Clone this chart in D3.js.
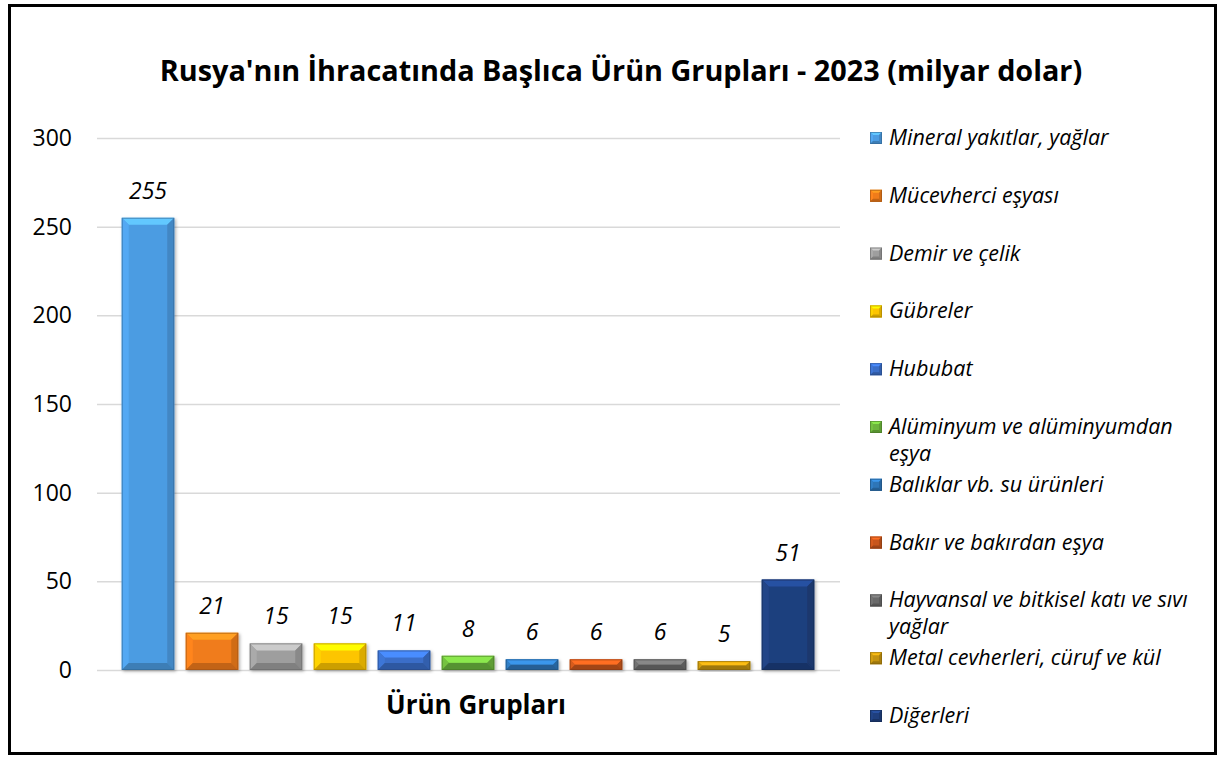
<!DOCTYPE html>
<html>
<head>
<meta charset="utf-8">
<script src="https://cdn.jsdelivr.net/npm/d3@7"></script>
<style>
  body { margin: 0; background: #fff; }
  svg { display: block; font-family: "Open Sans", Lato, sans-serif; }
</style>
</head>
<body>
<div id="chart"></div>
<script>
const categories = [
  'Mineral yakıtlar, yağlar',
  'Mücevherci eşyası',
  'Demir ve çelik',
  'Gübreler',
  'Hububat',
  'Alüminyum ve alüminyumdan eşya',
  'Balıklar vb. su ürünleri',
  'Bakır ve bakırdan eşya',
  'Hayvansal ve bitkisel katı ve sıvı yağlar',
  'Metal cevherleri, cüruf ve kül',
  'Diğerleri'
];
const values = [255, 21, 15, 15, 11, 8, 6, 6, 6, 5, 51];
const colors = ['#4c9ce2', '#f07c1a', '#9e9e9e', '#fdc500', '#3a6ec8', '#6cb53c',
  '#2e76b8', '#c8561c', '#6a6a6a', '#c4930f', '#1f3f7e'];
const yTicks = [0, 50, 100, 150, 200, 250, 300];

const W = 1219, H = 758;
const plot = {left: 97, right: 840, top: 138, bottom: 670};

const svg = d3.select('#chart').append('svg')
  .attr('width', W)
  .attr('height', H);

// outer frame
svg.append('rect')
  .attr('x', 9.5).attr('y', 5.5)
  .attr('width', 1206).attr('height', 748)
  .attr('fill', '#fff')
  .attr('stroke', '#000')
  .attr('stroke-width', 3);

// title, sized to span the same width as the original
const title = svg.append('text')
  .attr('x', 621).attr('y', 81)
  .attr('text-anchor', 'middle')
  .attr('font-weight', 700)
  .attr('font-size', 26)
  .attr('fill', '#000')
  .text("Rusya'nın İhracatında Başlıca Ürün Grupları - 2023 (milyar dolar)");
fitWidth(title, 923);

const x = d3.scaleBand()
  .domain(categories)
  .range([116, 820])
  .paddingInner(0.18)
  .paddingOuter(0.09);

const y = d3.scaleLinear()
  .domain([0, 300])
  .range([plot.bottom, plot.top]);

// gridlines
svg.append('g')
  .selectAll('line')
  .data(yTicks)
  .join('line')
  .attr('x1', plot.left).attr('x2', plot.right)
  .attr('y1', d => y(d) + 0.5).attr('y2', d => y(d) + 0.5)
  .attr('stroke', '#d9d9d9')
  .attr('stroke-width', 1.5);

// y axis labels
const yAxis = svg.append('g')
  .attr('transform', 'translate(72,0)')
  .call(d3.axisLeft(y).tickValues(yTicks).tickSize(0).tickPadding(0));
yAxis.select('.domain').remove();
yAxis.selectAll('text')
  .attr('font-family', '"Open Sans", sans-serif')
  .attr('font-size', 23)
  .attr('fill', '#000');

const defs = svg.append('defs');
defs.append('filter')
  .attr('id', 'shadow')
  .attr('x', '-20%').attr('y', '-20%').attr('width', '140%').attr('height', '140%')
  .append('feDropShadow')
  .attr('dx', 1.5).attr('dy', 1.5).attr('stdDeviation', 1.5)
  .attr('flood-color', '#000').attr('flood-opacity', 0.3);

// draws a bevelled box like Excel's "relaxed inset" bars
function bevelBox (g, bx, by, bw, bh, color, b) {
  b = Math.min(b, bw / 2, bh / 2);
  const c = d3.color(color);
  const pts = p => p.map(q => q.join(',')).join(' ');
  g.append('rect')
    .attr('x', bx).attr('y', by).attr('width', bw).attr('height', bh)
    .attr('fill', color);
  g.append('polygon')
    .attr('points', pts([[bx, by], [bx + bw, by], [bx + bw - b, by + b], [bx + b, by + b]]))
    .attr('fill', c.brighter(0.7));
  g.append('polygon')
    .attr('points', pts([[bx, by], [bx + b, by + b], [bx + b, by + bh - b], [bx, by + bh]]))
    .attr('fill', c.brighter(0.2));
  g.append('polygon')
    .attr('points', pts([[bx + bw, by], [bx + bw - b, by + b], [bx + bw - b, by + bh - b], [bx + bw, by + bh]]))
    .attr('fill', c.darker(0.4));
  g.append('polygon')
    .attr('points', pts([[bx, by + bh], [bx + b, by + bh - b], [bx + bw - b, by + bh - b], [bx + bw, by + bh]]))
    .attr('fill', c.darker(0.6));
  g.append('rect')
    .attr('x', bx + 0.5).attr('y', by + 0.5).attr('width', bw - 1).attr('height', bh - 1)
    .attr('fill', 'none')
    .attr('stroke', c.darker(1.2))
    .attr('stroke-opacity', 0.6);
}

// bars
const bars = svg.append('g');
categories.forEach((cat, i) => {
  const g = bars.append('g').attr('filter', 'url(#shadow)');
  bevelBox(g, x(cat), y(values[i]), x.bandwidth(), y(0) - y(values[i]), colors[i], 7);
});

// data labels
svg.append('g')
  .selectAll('text')
  .data(values)
  .join('text')
  .attr('x', (d, i) => x(categories[i]) + x.bandwidth() / 2)
  .attr('y', d => y(d) - 19)
  .attr('text-anchor', 'middle')
  .attr('font-style', 'italic')
  .attr('font-size', 23)
  .attr('fill', '#000')
  .text(d => d);

// x axis title
const xTitle = svg.append('text')
  .attr('x', 476).attr('y', 714)
  .attr('text-anchor', 'middle')
  .attr('font-weight', 700)
  .attr('font-size', 25)
  .attr('fill', '#000')
  .text('Ürün Grupları');
fitWidth(xTitle, 180);

// legend
const legend = svg.append('g');
categories.forEach((cat, i) => {
  const cy = 138 + i * 57.8;
  const g = legend.append('g');
  bevelBox(g, 870, cy - 6, 12, 12, colors[i], 3);
  const t = g.append('text')
    .attr('x', 889).attr('y', cy + 7)
    .attr('font-style', 'italic')
    .attr('font-size', 21.5)
    .attr('fill', '#000');
  wrap(t, cat, 314, 27);
});

function wrap (t, str, maxW, lh) {
  const words = str.split(' ');
  let line = [];
  let tspan = t.append('tspan').attr('x', t.attr('x'));
  words.forEach(w => {
    line.push(w);
    tspan.text(line.join(' '));
    if (tspan.node().getComputedTextLength() > maxW && line.length > 1) {
      line.pop();
      tspan.text(line.join(' '));
      line = [w];
      tspan = t.append('tspan').attr('x', t.attr('x')).attr('dy', lh).text(w);
    }
  });
}

function fitWidth (sel, target) {
  const size = +sel.attr('font-size');
  const w = sel.node().getComputedTextLength();
  sel.attr('font-size', size * target / w);
}
</script>
</body>
</html>
